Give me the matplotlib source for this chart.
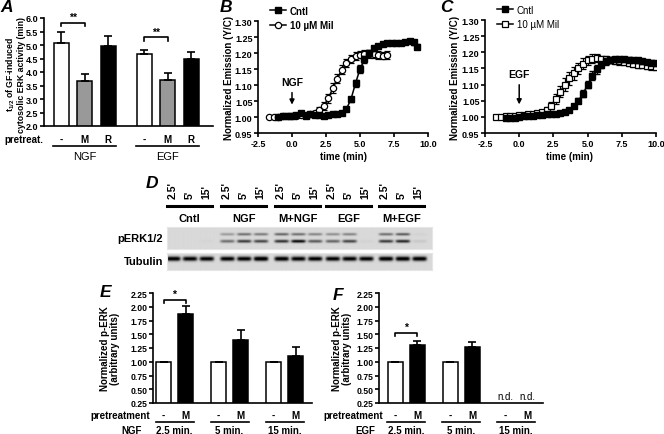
import numpy as np
import matplotlib.pyplot as plt
from matplotlib.lines import Line2D
from matplotlib.transforms import blended_transform_factory

plt.rcParams['font.family'] = ['Liberation Sans', 'DejaVu Sans']
plt.rcParams['font.weight'] = 'bold'
plt.rcParams['mathtext.fontset'] = 'custom'
plt.rcParams['mathtext.rm'] = 'Liberation Sans'
plt.rcParams['mathtext.bf'] = 'Liberation Sans:bold'

# ---- panel A: t1/2 of GF-induced ERK activity
a_pretreat = ['-', 'M', 'R']
a_groups = ['NGF', 'EGF']
a_ngf = [5.07, 3.65, 4.95]
a_ngf_err = [0.40, 0.27, 0.37]
a_egf = [4.65, 3.70, 4.50]
a_egf_err = [0.17, 0.25, 0.25]

# ---- panel B: NGF time course
b_cntl_t = [-1.0, -0.67, -0.33, 0.0, 0.33, 0.67, 1.0, 1.33, 1.67, 2.0, 2.33, 2.67, 3.0, 3.33, 3.67, 4.0,
            4.33, 4.67, 5.0, 5.33, 5.67, 6.0, 6.33, 6.67, 7.0, 7.33, 7.67, 8.0, 8.33, 8.67, 9.0, 9.2]
b_cntl = [1.000, 1.003, 1.002, 1.003, 1.006, 1.012, 1.004, 1.008, 1.006, 1.005, 1.004, 1.006, 1.008, 1.010,
          1.013, 1.025, 1.055, 1.105, 1.150, 1.180, 1.200, 1.215, 1.222, 1.228, 1.230, 1.230, 1.232, 1.232,
          1.235, 1.238, 1.233, 1.220]
b_cntl_err = [0.003, 0.003, 0.004, 0.004, 0.005, 0.006, 0.004, 0.004, 0.004, 0.003, 0.003, 0.003, 0.004,
              0.004, 0.005, 0.006, 0.008, 0.012, 0.014, 0.012, 0.010, 0.008, 0.006, 0.006, 0.005, 0.005,
              0.005, 0.005, 0.006, 0.006, 0.007, 0.008]
b_mil_t = [-1.7, -1.33, -1.0, -0.67, -0.33, 0.0, 0.33, 0.67, 1.0, 1.33, 1.67, 2.0, 2.33, 2.67, 3.0, 3.33,
           3.67, 4.0, 4.33, 4.67, 5.0, 5.33, 5.67, 6.0, 6.33, 6.67, 7.0]
b_mil = [1.000, 1.001, 1.001, 1.002, 1.003, 1.003, 1.004, 1.005, 1.007, 1.009, 1.013, 1.022, 1.035, 1.058,
         1.090, 1.120, 1.148, 1.168, 1.182, 1.190, 1.195, 1.197, 1.197, 1.196, 1.194, 1.192, 1.193]
b_mil_err = [0.003, 0.003, 0.003, 0.003, 0.004, 0.004, 0.004, 0.004, 0.005, 0.005, 0.006, 0.008, 0.012,
             0.014, 0.015, 0.015, 0.014, 0.013, 0.012, 0.012, 0.012, 0.012, 0.012, 0.012, 0.012, 0.012, 0.012]

# ---- panel C: EGF time course
c_cntl_t = [-1.0, -0.67, -0.33, 0.0, 0.33, 0.67, 1.0, 1.33, 1.67, 2.0, 2.33, 2.67, 3.0, 3.33, 3.67, 4.0,
            4.33, 4.67, 5.0, 5.33, 5.67, 6.0, 6.33, 6.67, 7.0, 7.33, 7.67, 8.0, 8.33, 8.67, 9.0, 9.33,
            9.67, 10.0]
c_cntl = [0.997, 0.998, 0.996, 1.000, 1.002, 1.003, 1.004, 1.006, 1.007, 1.008, 1.009, 1.010, 1.011, 1.014,
          1.020, 1.033, 1.050, 1.072, 1.100, 1.128, 1.148, 1.162, 1.172, 1.176, 1.178, 1.178, 1.178, 1.177,
          1.176, 1.175, 1.172, 1.170, 1.168, 1.166]
c_cntl_err = [0.004, 0.004, 0.005, 0.004, 0.004, 0.004, 0.004, 0.004, 0.004, 0.004, 0.004, 0.004, 0.004,
              0.004, 0.005, 0.006, 0.008, 0.010, 0.012, 0.014, 0.014, 0.012, 0.010, 0.008, 0.008, 0.007,
              0.007, 0.007, 0.007, 0.007, 0.007, 0.007, 0.007, 0.007]
c_mil_t = [-1.7, -1.33, -1.0, -0.67, -0.33, 0.0, 0.33, 0.67, 1.0, 1.33, 1.67, 2.0, 2.33, 2.67, 3.0, 3.33,
           3.67, 4.0, 4.33, 4.67, 5.0, 5.33, 5.67, 6.0, 6.33, 6.67, 7.0, 7.33, 7.67, 8.0, 8.33, 8.67, 9.0,
           9.33, 9.67, 10.0]
c_mil = [1.000, 1.001, 1.002, 1.003, 1.004, 1.006, 1.007, 1.008, 1.010, 1.012, 1.016, 1.022, 1.035, 1.055,
         1.078, 1.100, 1.120, 1.135, 1.150, 1.165, 1.175, 1.180, 1.182, 1.180, 1.178, 1.176, 1.174, 1.172,
         1.170, 1.168, 1.165, 1.162, 1.160, 1.158, 1.156, 1.155]
c_mil_err = [0.004, 0.004, 0.004, 0.004, 0.004, 0.004, 0.004, 0.004, 0.005, 0.005, 0.006, 0.008, 0.012,
             0.016, 0.018, 0.020, 0.020, 0.020, 0.018, 0.016, 0.015, 0.014, 0.012, 0.010, 0.010, 0.010,
             0.010, 0.010, 0.010, 0.010, 0.010, 0.010, 0.010, 0.010, 0.010, 0.010]

# ---- panel D: western blot (band intensities, 0..1)
d_groups = ['Cntl', 'NGF', 'M+NGF', 'EGF', 'M+EGF']
d_times = ["2.5'", "5'", "15'"]
d_perk_upper = [0.0, 0.0, 0.0, 0.30, 0.50, 0.45, 0.55, 0.50, 0.40, 0.35, 0.40, 0.0, 0.50, 0.60, 0.03]
d_perk_lower = [0.0, 0.0, 0.02, 0.50, 0.75, 0.70, 0.80, 1.00, 0.60, 0.55, 0.70, 0.03, 0.75, 0.85, 0.08]
d_tubulin = [0.95, 0.90, 0.90, 0.90, 0.90, 1.00, 0.95, 0.90, 0.90, 0.90, 0.90, 0.90, 0.95, 0.95, 0.95]

# ---- panels E / F: normalized p-ERK
ef_times = ['2.5 min.', '5 min.', '15 min.']
ef_pretreat = ['-', 'M']
e_ctrl = [1.0, 1.0, 1.0]
e_mil = [1.87, 1.39, 1.10]
e_mil_err = [0.14, 0.19, 0.17]
f_ctrl = [1.0, 1.0, np.nan]
f_mil = [1.31, 1.26, np.nan]
f_mil_err = [0.06, 0.10, 0.0]

W, H = 664, 435
fig = plt.figure(figsize=(W / 100, H / 100), dpi=100)


def box(x0, y0, x1, y1):
    return fig.add_axes([x0 / W, 1 - y1 / H, (x1 - x0) / W, (y1 - y0) / H])


def fy(y):
    return 1 - y / H


def ftext(x, y, s, **kw):
    fig.text(x / W, fy(y), s, **kw)


def fline(x0, x1, y, lw=1.0):
    fig.add_artist(Line2D([x0 / W, x1 / W], [fy(y), fy(y)], transform=fig.transFigure,
                          color='black', lw=lw))


def style(ax, fs=6.5):
    for s in ['top', 'right']:
        ax.spines[s].set_visible(False)
    for s in ['left', 'bottom']:
        ax.spines[s].set_linewidth(1.2)
    ax.tick_params(direction='out', length=3, width=1.2, labelsize=fs, pad=1)
    for lab in ax.get_xticklabels() + ax.get_yticklabels():
        lab.set_fontweight('bold')


def letter(x, y, s):
    ftext(x, y, s, fontsize=12.5, fontweight='bold', style='italic', ha='center', va='center')


bar_kw = dict(edgecolor='black', linewidth=1.1, error_kw=dict(elinewidth=1.2, capsize=3.2, capthick=1.2))

# ================= A =================
axA = box(44, 19, 213, 127)
a_vals = a_ngf + a_egf
a_err = a_ngf_err + a_egf_err
a_cols = ['white', '#999999', 'black'] * 2
a_x = [g * 83 + i * 23.5 + 17 for g in range(2) for i in range(3)]
axA.bar(a_x, a_vals, width=15, color=a_cols, yerr=[[0] * 6, a_err], **bar_kw)
axA.set_xlim(0, 169)
axA.set_ylim(2.0, 6.0)
axA.set_yticks(np.arange(2.0, 6.01, 0.5))
axA.set_yticklabels(['%.1f' % v for v in np.arange(2.0, 6.01, 0.5)])
axA.set_xticks([])
style(axA)
# significance brackets
for (xa, xb, yb) in [(a_x[0], a_x[1], 5.82), (a_x[3], a_x[4], 5.29)]:
    axA.plot([xa, xa, xb, xb], [yb - 0.13, yb, yb, yb - 0.13], color='black', lw=1.2, clip_on=False)
    axA.text((xa + xb) / 2, yb + 0.03, '**', ha='center', va='bottom', fontsize=7.5, fontweight='bold')
trA = blended_transform_factory(axA.transData, fig.transFigure)
ftext(4, 140, 'pretreat.', fontsize=7, fontweight='bold', ha='left', va='center')
for k, xv in enumerate(a_x):
    axA.text(xv, fy(140), a_pretreat[k % 3], transform=trA, ha='center', va='center',
             fontsize=7, fontweight='bold')
for g in range(2):
    x0, x1 = a_x[g * 3] - 8, a_x[g * 3 + 2] + 8
    axA.plot([x0, x1], [fy(147), fy(147)], transform=trA, color='black', lw=1.2, clip_on=False)
    axA.text((x0 + x1) / 2, fy(157), a_groups[g], transform=trA, ha='center', va='center',
             fontsize=8, fontweight='normal')
ftext(15, 75, r'$\mathbf{t_{1/2}}$ of GF-induced' + '\ncytosolic ERK activity (min)', rotation=90,
      fontsize=6.3, fontweight='bold', ha='center', va='center', linespacing=1.0)
letter(7, 7, 'A')


# ================= B, C =================
def kinetics(ax, t1, v1, e1, t2, v2, e2, mk2, bold_legend):
    ax.errorbar(t1, v1, yerr=e1, fmt='-', color='black', lw=1.1, elinewidth=0.9, capsize=2.2,
                marker='s', ms=4, mfc='black', mec='black', zorder=3)
    ax.errorbar(t2, v2, yerr=e2, fmt='-', color='black', lw=1.1, elinewidth=0.9, capsize=2.2,
                marker=mk2, ms=4.5, mfc='white', mec='black', mew=0.9, zorder=2)
    ax.set_xlim(-2.5, 10.0)
    ax.set_ylim(0.95, 1.30)
    ax.set_xticks(np.arange(-2.5, 10.01, 2.5))
    ax.set_xticklabels(['%.1f' % v for v in np.arange(-2.5, 10.01, 2.5)])
    ax.set_yticks(np.arange(0.95, 1.301, 0.05))
    ax.set_yticklabels(['%.2f' % v for v in np.arange(0.95, 1.301, 0.05)])
    style(ax)
    handles = [Line2D([], [], color='black', lw=1.1, marker='s', ms=4, mfc='black'),
               Line2D([], [], color='black', lw=1.1, marker=mk2, ms=4.5, mfc='white', mew=0.9)]
    leg = ax.legend(handles, ['Cntl', '10 \u00b5M Mil'], loc='upper left', bbox_to_anchor=(0.05, 1.17),
                    frameon=False, fontsize=7, handlelength=1.6, handletextpad=0.4, labelspacing=0.45,
                    borderaxespad=0)
    for tx in leg.get_texts():
        tx.set_fontweight('bold' if bold_legend else 'normal')


axB = box(258, 22, 428, 134)
kinetics(axB, b_cntl_t, b_cntl, b_cntl_err, b_mil_t, b_mil, b_mil_err, 'o', True)
axB.annotate('', xy=(0, 1.030), xytext=(0, 1.085),
             arrowprops=dict(arrowstyle='-|>', color='black', lw=1.1, mutation_scale=7))
axB.text(0, 1.11, 'NGF', ha='center', va='center', fontsize=7.5, fontweight='bold')
ftext(343, 157, 'time (min)', fontsize=7, fontweight='bold', ha='center', va='center')
ftext(229, 78, 'Normalized Emission (Y/C)', rotation=90, fontsize=7, fontweight='bold',
      ha='center', va='center')
letter(226, 7, 'B')

axC = box(485, 21, 656, 134)
kinetics(axC, c_cntl_t, c_cntl, c_cntl_err, c_mil_t, c_mil, c_mil_err, 's', False)
axC.annotate('', xy=(0, 1.030), xytext=(0, 1.108),
             arrowprops=dict(arrowstyle='-|>', color='black', lw=1.1, mutation_scale=7))
axC.text(0, 1.133, 'EGF', ha='center', va='center', fontsize=7.5, fontweight='bold')
ftext(570, 157, 'time (min)', fontsize=7, fontweight='bold', ha='center', va='center')
ftext(455, 78, 'Normalized Emission (Y/C)', rotation=90, fontsize=7, fontweight='bold',
      ha='center', va='center')
letter(446, 7, 'C')

# ================= D (blot) =================
bx0, bx1 = 167, 432
g_off = [6, 60, 114, 165, 218]
lane_x = np.array([g_off[g] + i * 16.7 for g in range(5) for i in range(3)])


def blot(y0, y1, rows):
    ax = box(bx0, y0, bx1, y1)
    xs = np.arange(0, bx1 - bx0, 0.5)
    ys = np.arange(0, y1 - y0, 0.5)
    X, Y = np.meshgrid(xs, ys)
    img = np.full(X.shape, 0.85)
    for vals, yc, sy, k in rows:
        for lx, v in zip(lane_x, vals):
            img -= k * v * np.exp(-((X - lx) / 7.2) ** 6) * np.exp(-((Y - yc) / sy) ** 2)
    ax.imshow(np.clip(img, 0, 1), cmap='gray', vmin=0, vmax=1, aspect='auto', interpolation='bilinear',
              extent=[0, bx1 - bx0, y1 - y0, 0])
    ax.set_xticks([])
    ax.set_yticks([])
    for s in ax.spines.values():
        s.set_color('#e6e6e6')
    return ax


blot(228, 250, [(d_perk_upper, 7, 1.3, 0.85), (d_perk_lower, 14, 1.5, 0.85)])
blot(254, 271, [(d_tubulin, 5.5, 2.2, 1.0)])
ftext(163, 239, 'pERK1/2', fontsize=8, fontweight='bold', ha='right', va='center')
ftext(163, 262, 'Tubulin', fontsize=8, fontweight='bold', ha='right', va='center')
for k, lx in enumerate(lane_x):
    ftext(bx0 + lx, 199, d_times[k % 3], rotation=90, fontsize=7.5, fontweight='bold',
          ha='center', va='bottom')
for g in range(5):
    x0, x1 = bx0 + lane_x[g * 3] - 6, bx0 + lane_x[g * 3 + 2] + 6
    fline(x0, x1, 207, lw=2.2)
    ftext((x0 + x1) / 2, 219, d_groups[g], fontsize=8, fontweight='bold', ha='center', va='center')
letter(152, 184, 'D')


# ================= E, F =================
def pERK(axpos, xlim, off, ctrl, mil, err, gf, lab_right, bracket, ylab_x):
    ax = box(*axpos)
    xs = [g * 55 + i * 22 + off for g in range(3) for i in range(2)]
    vals, errs, cols = [], [], []
    for g in range(3):
        vals += [ctrl[g], mil[g]]
        errs += [0, err[g]]
        cols += ['white', 'black']
    ax.bar(xs, vals, width=15, color=cols, yerr=[[0] * 6, errs], **bar_kw)
    ax.set_xlim(0, xlim)
    ax.set_ylim(0.25, 2.25)
    ax.set_yticks(np.arange(0.25, 2.26, 0.25))
    ax.set_yticklabels(['%.2f' % v for v in np.arange(0.25, 2.26, 0.25)])
    ax.set_xticks([])
    style(ax, fs=6.2)
    xa, xb, yb = xs[0], xs[1], bracket
    ax.plot([xa, xa, xb, xb], [yb - 0.07, yb, yb, yb - 0.07], color='black', lw=1.2, clip_on=False)
    ax.text((xa + xb) / 2, yb + 0.01, '*', ha='center', va='bottom', fontsize=7.5, fontweight='bold')
    for k, v in enumerate(vals):
        if np.isnan(v):
            ax.text(xs[k], 0.28, 'n.d.', ha='center', va='bottom', fontsize=7, fontweight='normal')
    tr = blended_transform_factory(ax.transData, fig.transFigure)
    for k, xv in enumerate(xs):
        ax.text(xv, fy(416), ef_pretreat[k % 2], transform=tr, ha='center', va='center',
                fontsize=7, fontweight='bold')
    for g in range(3):
        x0, x1 = xs[g * 2] - 8, xs[g * 2 + 1] + 8
        ax.plot([x0, x1], [fy(423), fy(423)], transform=tr, color='black', lw=1.2, clip_on=False)
        ax.text((x0 + x1) / 2, fy(431), ef_times[g], transform=tr, ha='center', va='center',
                fontsize=7, fontweight='bold')
    ftext(lab_right, 416, 'pretreatment', fontsize=7, fontweight='bold', ha='right', va='center')
    ftext(lab_right - 8, 431, gf, fontsize=7, fontweight='bold', ha='right', va='center')
    ftext(ylab_x, 349, 'Normalized p-ERK\n(arbitrary units)', rotation=90, fontsize=7,
          fontweight='bold', ha='center', va='center', linespacing=1.05)
    return ax


pERK((153, 294, 312, 404), 159, 10.5, e_ctrl, e_mil, e_mil_err, 'NGF', 150, 2.13, 110)
letter(106, 293, 'E')
pERK((379, 294, 543, 404), 164, 16, f_ctrl, f_mil, f_mil_err, 'EGF', 383, 1.53, 342)
letter(338, 296, 'F')

fig.savefig('out.png', dpi=100)
